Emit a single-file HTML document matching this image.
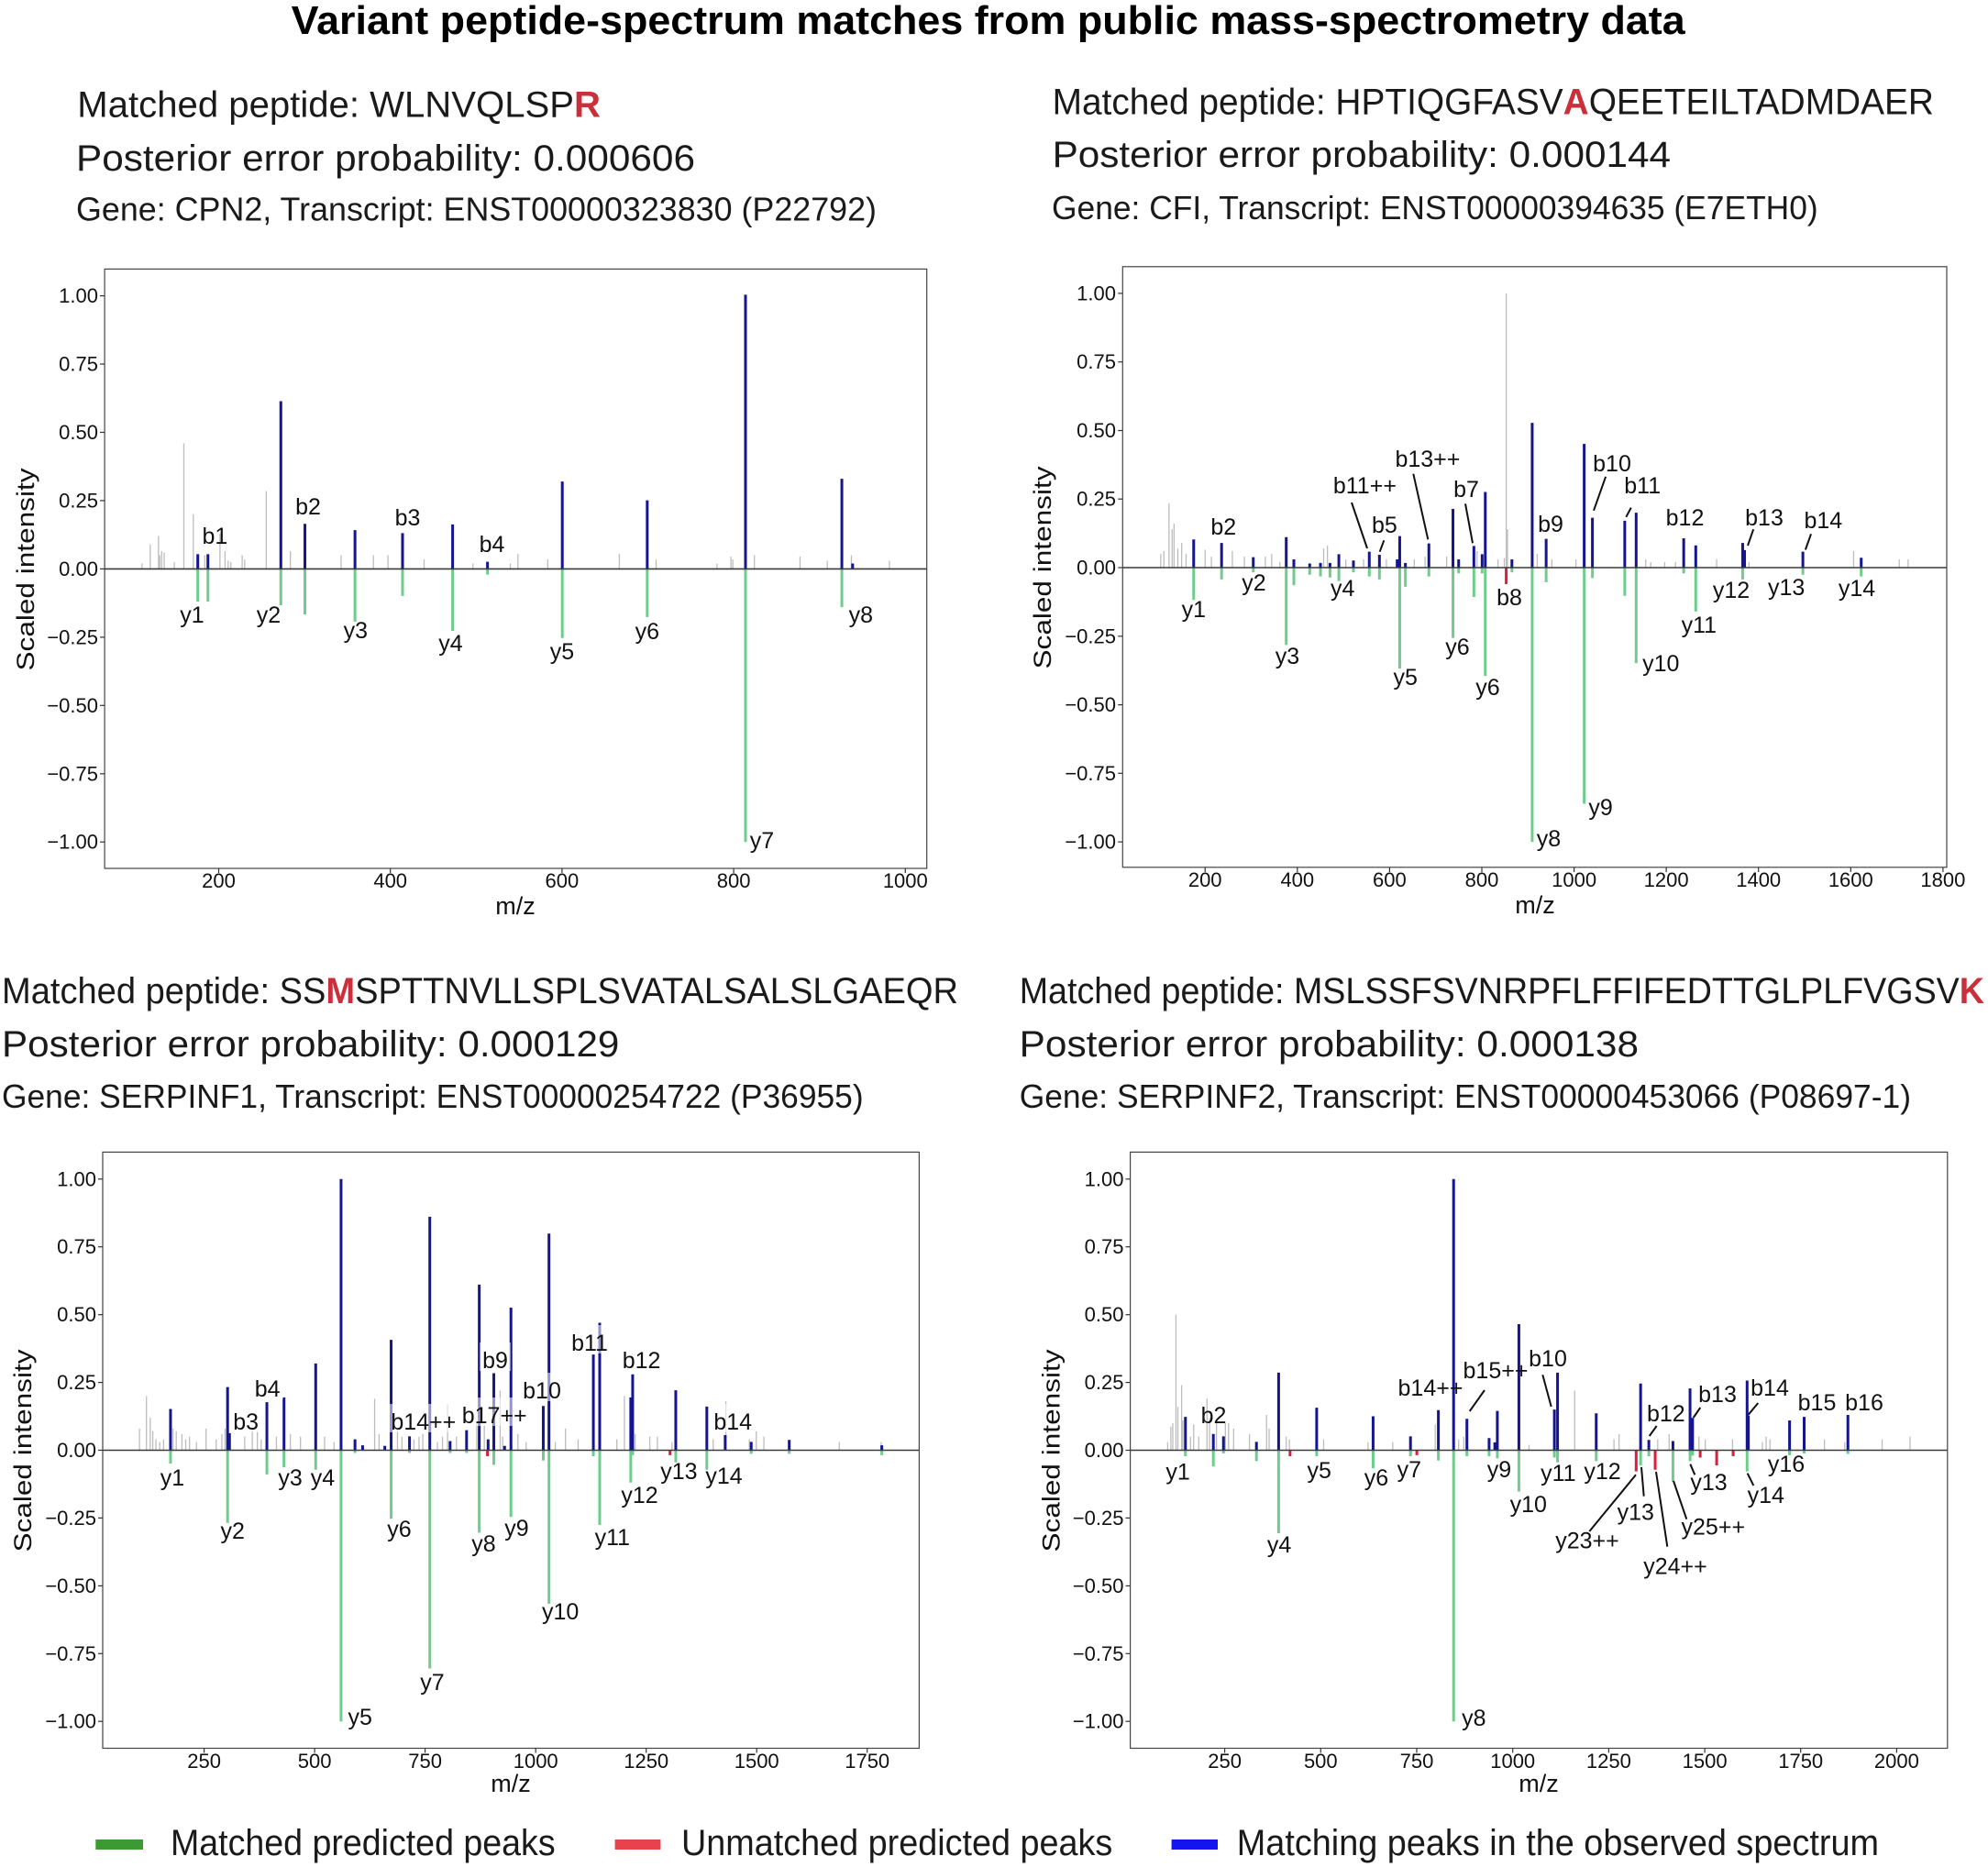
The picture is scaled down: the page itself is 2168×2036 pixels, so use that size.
<!DOCTYPE html>
<html>
<head>
<meta charset="utf-8">
<style>
html,body{margin:0;padding:0;background:#fff;}
svg{display:block;}
text{font-family:"Liberation Sans","DejaVu Sans",sans-serif;fill:#111;}
.g path,.bl path,.gr path,.rd path{vector-effect:non-scaling-stroke;fill:none;}
.g path{stroke:#bdbdbd;stroke-width:1.3;}
.bl path{stroke:#15158f;stroke-width:3;}
.gr path{stroke:#6ecd8c;stroke-width:3;}
.rd path{stroke:#dc1e3c;stroke-width:3;}
.lab{font-size:25px;text-anchor:middle;}
.tk{font-size:22px;}
.tky{text-anchor:end;}
.tkx{text-anchor:middle;}
.hd{font-size:40px;fill:#1a1a1a;}
.hd2{font-size:36px;fill:#1a1a1a;}
.hl{font-weight:bold;fill:#c9303c;}
.ax{font-size:27px;text-anchor:middle;}
.leg{font-size:40px;fill:#1a1a1a;}
.ld{stroke:#111;stroke-width:2;fill:none;}
.tm{stroke:#333;stroke-width:1.2;}
.fr{fill:none;stroke:#444;stroke-width:1.2;}
.zl{stroke:#3a3a3a;stroke-width:1.6;}
.bx{fill:#fff;fill-opacity:0.55;}
</style>
</head>
<body>
<svg width="2168" height="2036" viewBox="0 0 2168 2036" xmlns="http://www.w3.org/2000/svg">
<rect width="2168" height="2036" fill="#fff"/>

<!-- Title -->
<text x="1077.7" y="37" font-size="44" font-weight="bold" text-anchor="middle" textLength="1520" lengthAdjust="spacingAndGlyphs" style="fill:#000">Variant peptide-spectrum matches from public mass-spectrometry data</text>

<!-- ================= TOP LEFT ================= -->
<text class="hd" x="84.3" y="127.6" textLength="570.7" lengthAdjust="spacingAndGlyphs">Matched peptide: WLNVQLSP<tspan class="hl">R</tspan></text>
<text class="hd" x="83" y="186" textLength="675" lengthAdjust="spacingAndGlyphs">Posterior error probability: 0.000606</text>
<text class="hd2" x="83" y="240.4" textLength="873" lengthAdjust="spacingAndGlyphs">Gene: CPN2, Transcript: ENST00000323830 (P22792)</text>

<g transform="translate(0,620.4) scale(0.691323,-297.8)">
<g class="g"><path d="M224 0V.02M237 0V.09M250 0V.12M252 0V.05M255 0V.065M259 0V.06M275 0V.025M290 0V.46M305 0V.2M323 0V.05M347 0V.13M355 0V.065M360 0V.03M364 0V.025M382 0V.05M386 0V.035M420 0V.285M458 0V.065M538 0V.05M589 0V.05M612 0V.05M669 0V.035M746 0V.02M805 0V.02M817 0V.055M864 0V.035M977 0V.055M1035 0V.035M1131 0V.02M1153 0V.045M1156 0V.035M1190 0V.05M1262 0V.045M1305 0V.03M1343 0V.05M1403 0V.03"/></g>
<g class="gr"><path d="M312 0V-.12M328 0V-.12M443 0V-.133M481 0V-.167M560 0V-.193M635 0V-.099M714 0V-.227M769 0V-.021M887 0V-.253M1021 0V-.176M1176 0V-1M1328 0V-.14"/></g>
<g class="bl"><path d="M312 0V.054M328 0V.054M443 0V.614M481 0V.165M560 0V.142M635 0V.131M714 0V.163M769 0V.026M887 0V.32M1021 0V.251M1176 0V1.004M1328 0V.33M1345 0V.02"/></g>
</g>
<line class="zl" x1="114.1" y1="620.4" x2="1010.7" y2="620.4"/>
<rect class="fr" x="114.1" y="293.4" width="896.6" height="653.6"/>
<!-- TL ticks -->
<g class="tm">
<line x1="109" y1="322.6" x2="114.1" y2="322.6"/><line x1="109" y1="397" x2="114.1" y2="397"/><line x1="109" y1="471.5" x2="114.1" y2="471.5"/><line x1="109" y1="545.9" x2="114.1" y2="545.9"/><line x1="109" y1="620.4" x2="114.1" y2="620.4"/><line x1="109" y1="694.9" x2="114.1" y2="694.9"/><line x1="109" y1="769.3" x2="114.1" y2="769.3"/><line x1="109" y1="843.8" x2="114.1" y2="843.8"/><line x1="109" y1="918.2" x2="114.1" y2="918.2"/>
<line x1="238.5" y1="947" x2="238.5" y2="952"/><line x1="425.7" y1="947" x2="425.7" y2="952"/><line x1="612.9" y1="947" x2="612.9" y2="952"/><line x1="800.1" y1="947" x2="800.1" y2="952"/><line x1="987.3" y1="947" x2="987.3" y2="952"/>
</g>
<g class="tk tky">
<text x="107" y="330.1">1.00</text><text x="107" y="404.5">0.75</text><text x="107" y="479">0.50</text><text x="107" y="553.4">0.25</text><text x="107" y="627.9">0.00</text><text x="107" y="702.4">−0.25</text><text x="107" y="776.8">−0.50</text><text x="107" y="851.3">−0.75</text><text x="107" y="925.7">−1.00</text>
</g>
<g class="tk tkx">
<text x="238.5" y="968">200</text><text x="425.7" y="968">400</text><text x="612.9" y="968">600</text><text x="800.1" y="968">800</text><text x="987.3" y="968">1000</text>
</g>
<text class="ax" transform="translate(37,621) rotate(-90)" textLength="221" lengthAdjust="spacingAndGlyphs">Scaled intensity</text>
<text class="ax" x="562" y="997">m/z</text>
<g class="lab">
<text x="234.4" y="593">b1</text><text x="336" y="561">b2</text><text x="444.5" y="573">b3</text><text x="536.5" y="602">b4</text>
<text x="209.5" y="679">y1</text><text x="293" y="679">y2</text><text x="387.8" y="696">y3</text><text x="491.5" y="710">y4</text><text x="613" y="719">y5</text><text x="705.8" y="697">y6</text><text x="831" y="925">y7</text><text x="938.8" y="679">y8</text>
</g>

<!-- ================= TOP RIGHT ================= -->
<text class="hd" x="1147.6" y="124.4" textLength="961.4" lengthAdjust="spacingAndGlyphs">Matched peptide: HPTIQGFASV<tspan class="hl">A</tspan>QEETEILTADMDAER</text>
<text class="hd" x="1147.6" y="181.8" textLength="674.4" lengthAdjust="spacingAndGlyphs">Posterior error probability: 0.000144</text>
<text class="hd2" x="1147" y="239.2" textLength="835.7" lengthAdjust="spacingAndGlyphs">Gene: CFI, Transcript: ENST00000394635 (E7ETH0)</text>

<g transform="translate(1084,619) scale(0.691323,-299.1)">
<g class="g"><path d="M263 0V.05M268 0V.06M276 0V.235M281 0V.14M284 0V.16M290 0V.07M296 0V.09M303 0V.05M333 0V.065M343 0V.04M376 0V.06M395 0V.04M428 0V.04M438 0V.05M451 0V.02M520 0V.07M526 0V.08M555 0V.03M583 0V.03M619 0V.03M663 0V.03M680 0V.04M714 0V.04M762 0V.06M795 0V.03M805 0V.035M808 0V1M810 0V.14M857 0V.05M880 0V.03M918 0V.03M1028 0V.03M1036 0V.02M1058 0V.02M1075 0V.02M1140 0V.03M1191 0V.02M1356 0V.06M1428 0V.03M1442 0V.03"/></g>
<g class="gr"><path d="M315 0V-.118M359 0V-.043M409 0V-.017M461 0V-.282M473 0V-.064M498 0V-.026M515 0V-.032M530 0V-.036M544 0V-.049M567 0V-.017M592 0V-.032M608 0V-.043M640 0V-.368M649 0V-.07M686 0V-.032M724 0V-.256M733 0V-.021M757 0V-.107M770 0V-.021M775 0V-.395M817 0V-.017M849 0V-1M871 0V-.053M931 0V-.861M944 0V-.038M995 0V-.103M1013 0V-.348M1088 0V-.021M1107 0V-.16M1181 0V-.043M1276 0V-.026M1368 0V-.032"/></g>
<g class="rd"><path d="M808 0V-.06"/></g>
<g class="bl"><path d="M315 0V.103M359 0V.09M409 0V.038M461 0V.111M473 0V.03M498 0V.015M515 0V.017M530 0V.017M544 0V.049M567 0V.026M592 0V.058M608 0V.047M636 0V.03M640 0V.115M649 0V.017M686 0V.088M724 0V.214M733 0V.03M757 0V.079M770 0V.049M775 0V.276M817 0V.03M849 0V.528M871 0V.105M931 0V.451M944 0V.182M995 0V.171M1013 0V.2M1088 0V.107M1107 0V.081M1181 0V.09M1184 0V.064M1276 0V.058M1368 0V.036"/></g>
</g>
<line class="zl" x1="1224.3" y1="619" x2="2123" y2="619"/>
<rect class="fr" x="1224.3" y="290.8" width="898.7" height="655"/>
<g class="tm">
<line x1="1219.2" y1="319.9" x2="1224.3" y2="319.9"/><line x1="1219.2" y1="394.7" x2="1224.3" y2="394.7"/><line x1="1219.2" y1="469.5" x2="1224.3" y2="469.5"/><line x1="1219.2" y1="544.2" x2="1224.3" y2="544.2"/><line x1="1219.2" y1="619" x2="1224.3" y2="619"/><line x1="1219.2" y1="693.8" x2="1224.3" y2="693.8"/><line x1="1219.2" y1="768.6" x2="1224.3" y2="768.6"/><line x1="1219.2" y1="843.3" x2="1224.3" y2="843.3"/><line x1="1219.2" y1="918.1" x2="1224.3" y2="918.1"/>
<line x1="1314.2" y1="945.8" x2="1314.2" y2="951"/><line x1="1414.8" y1="945.8" x2="1414.8" y2="951"/><line x1="1515.4" y1="945.8" x2="1515.4" y2="951"/><line x1="1616" y1="945.8" x2="1616" y2="951"/><line x1="1716.6" y1="945.8" x2="1716.6" y2="951"/><line x1="1817.1" y1="945.8" x2="1817.1" y2="951"/><line x1="1917.7" y1="945.8" x2="1917.7" y2="951"/><line x1="2018.3" y1="945.8" x2="2018.3" y2="951"/><line x1="2118.9" y1="945.8" x2="2118.9" y2="951"/>
</g>
<g class="tk tky">
<text x="1217" y="327.4">1.00</text><text x="1217" y="402.2">0.75</text><text x="1217" y="477">0.50</text><text x="1217" y="551.7">0.25</text><text x="1217" y="626.5">0.00</text><text x="1217" y="701.3">−0.25</text><text x="1217" y="776.1">−0.50</text><text x="1217" y="850.8">−0.75</text><text x="1217" y="925.6">−1.00</text>
</g>
<g class="tk tkx">
<text x="1314.2" y="967">200</text><text x="1414.8" y="967">400</text><text x="1515.4" y="967">600</text><text x="1616" y="967">800</text><text x="1716.6" y="967">1000</text><text x="1817.1" y="967">1200</text><text x="1917.7" y="967">1400</text><text x="2018.3" y="967">1600</text><text x="2118.9" y="967">1800</text>
</g>
<text class="ax" transform="translate(1146,619) rotate(-90)" textLength="221" lengthAdjust="spacingAndGlyphs">Scaled intensity</text>
<text class="ax" x="1674" y="996">m/z</text>
<g class="ld">
<line x1="1474" y1="548" x2="1491" y2="598"/>
<line x1="1509.3" y1="589.3" x2="1504.7" y2="601.7"/>
<line x1="1541.3" y1="516.7" x2="1557.3" y2="588.3"/>
<line x1="1598" y1="549.3" x2="1606" y2="592.3"/>
<line x1="1751.1" y1="519.8" x2="1738" y2="556.8"/>
<line x1="1778.8" y1="553.6" x2="1773.3" y2="563.8"/>
<line x1="1912.2" y1="577.2" x2="1906" y2="595"/>
<line x1="1975" y1="582.3" x2="1968.9" y2="599.5"/>
</g>
<g class="lab">
<text x="1334.3" y="583">b2</text><text x="1488.4" y="538">b11++</text><text x="1509.9" y="581">b5</text><text x="1556.9" y="509">b13++</text><text x="1599" y="542">b7</text><text x="1691" y="580">b9</text><text x="1758" y="514">b10</text><text x="1791.2" y="538">b11</text><text x="1837.5" y="573">b12</text><text x="1924" y="573">b13</text><text x="1988.3" y="576">b14</text><text x="1646" y="660">b8</text>
<text x="1301.8" y="673">y1</text><text x="1367.4" y="644">y2</text><text x="1404" y="724">y3</text><text x="1464.2" y="650">y4</text><text x="1532.7" y="747">y5</text><text x="1589.4" y="714">y6</text><text x="1622.5" y="758">y6</text><text x="1689" y="923">y8</text><text x="1745.6" y="889">y9</text><text x="1811.3" y="732">y10</text><text x="1852.8" y="690">y11</text><text x="1888" y="652">y12</text><text x="1948.2" y="649">y13</text><text x="2025" y="650">y14</text>
</g>

<!-- ================= BOTTOM LEFT ================= -->
<text class="hd" x="2" y="1093.8" textLength="1043" lengthAdjust="spacingAndGlyphs">Matched peptide: SS<tspan class="hl">M</tspan>SPTTNVLLSPLSVATALSALSLGAEQR</text>
<text class="hd" x="2" y="1152" textLength="673.4" lengthAdjust="spacingAndGlyphs">Posterior error probability: 0.000129</text>
<text class="hd2" x="2" y="1208" textLength="939.6" lengthAdjust="spacingAndGlyphs">Gene: SERPINF1, Transcript: ENST00000254722 (P36955)</text>

<g transform="translate(0,1581.5) scale(0.691323,-295.7)">
<g class="g"><path d="M220 0V.08M231 0V.2M237 0V.12M241 0V.07M246 0V.04M252 0V.03M258 0V.04M273 0V.08M278 0V.07M287 0V.06M293 0V.04M299 0V.05M310 0V.03M325 0V.08M341 0V.04M350 0V.06M355 0V.08M386 0V.05M398 0V.08M406 0V.07M412 0V.04M436 0V.05M458 0V.06M474 0V.05M512 0V.05M527 0V.03M591 0V.19M598 0V.06M627 0V.08M634 0V.05M653 0V.04M661 0V.05M667 0V.06M690 0V.03M698 0V.05M706 0V.17M720 0V.05M752 0V.1M764 0V.09M789 0V.22M793 0V.05M817 0V.06M830 0V.03M876 0V.03M892 0V.08M912 0V.04M947 0V.11M973 0V.04M985 0V.2M1002 0V.06M1025 0V.05M1037 0V.05M1060 0V.03M1125 0V.04M1145 0V.18M1182 0V.04M1193 0V.07M1205 0V.05M1324 0V.03M1390 0V.03"/></g>
<g class="gr"><path d="M269 0V-.049M359 0V-.268M421 0V-.089M448 0V-.063M498 0V-.072M538 0V-1M560 0V-.01M617 0V-.253M646 0V-.01M678 0V-.805M710 0V-.01M736 0V-.01M756 0V-.304M779 0V-.054M806 0V-.246M857 0V-.038M866 0V-.566M936 0V-.022M946 0V-.275M995 0V-.119M998 0V-.018M1066 0V-.045M1115 0V-.072M1185 0V-.013M1245 0V-.013M1391 0V-.018"/></g>
<g class="rd"><path d="M769 0V-.022M1057 0V-.018"/></g>
<g class="bl"><path d="M269 0V.152M359 0V.233M362 0V.063M421 0V.177M448 0V.195M498 0V.32M538 0V1.0M560 0V.04M572 0V.018M607 0V.016M617 0V.407M646 0V.051M678 0V.861M710 0V.034M736 0V.074M756 0V.611M770 0V.04M779 0V.284M796 0V.016M806 0V.526M857 0V.163M866 0V.799M936 0V.353M946 0V.47M995 0V.195M998 0V.28M1066 0V.221M1115 0V.161M1144 0V.056M1185 0V.031M1245 0V.038M1391 0V.018"/></g>
</g>
<line class="zl" x1="112" y1="1581.5" x2="1002.4" y2="1581.5"/>
<rect class="fr" x="112" y="1256.4" width="890.4" height="650.1"/>
<g class="tm">
<line x1="107" y1="1285.8" x2="112" y2="1285.8"/><line x1="107" y1="1359.7" x2="112" y2="1359.7"/><line x1="107" y1="1433.7" x2="112" y2="1433.7"/><line x1="107" y1="1507.6" x2="112" y2="1507.6"/><line x1="107" y1="1581.5" x2="112" y2="1581.5"/><line x1="107" y1="1655.4" x2="112" y2="1655.4"/><line x1="107" y1="1729.4" x2="112" y2="1729.4"/><line x1="107" y1="1803.3" x2="112" y2="1803.3"/><line x1="107" y1="1877.2" x2="112" y2="1877.2"/>
<line x1="222.6" y1="1906.5" x2="222.6" y2="1911.5"/><line x1="343.1" y1="1906.5" x2="343.1" y2="1911.5"/><line x1="463.6" y1="1906.5" x2="463.6" y2="1911.5"/><line x1="584.2" y1="1906.5" x2="584.2" y2="1911.5"/><line x1="704.7" y1="1906.5" x2="704.7" y2="1911.5"/><line x1="825.2" y1="1906.5" x2="825.2" y2="1911.5"/><line x1="945.7" y1="1906.5" x2="945.7" y2="1911.5"/>
</g>
<g class="tk tky">
<text x="105" y="1293.3">1.00</text><text x="105" y="1367.2">0.75</text><text x="105" y="1441.2">0.50</text><text x="105" y="1515.1">0.25</text><text x="105" y="1589">0.00</text><text x="105" y="1662.9">−0.25</text><text x="105" y="1736.9">−0.50</text><text x="105" y="1810.8">−0.75</text><text x="105" y="1884.7">−1.00</text>
</g>
<g class="tk tkx">
<text x="222.6" y="1928">250</text><text x="343.1" y="1928">500</text><text x="463.6" y="1928">750</text><text x="584.2" y="1928">1000</text><text x="704.7" y="1928">1250</text><text x="825.2" y="1928">1500</text><text x="945.7" y="1928">1750</text>
</g>
<text class="ax" transform="translate(34,1582) rotate(-90)" textLength="221" lengthAdjust="spacingAndGlyphs">Scaled intensity</text>
<text class="ax" x="557" y="1954">m/z</text>
<g>
<rect class="bx" x="251.3" y="1531" width="33.8" height="31"/>
<rect class="bx" x="274.8" y="1495" width="33.8" height="31"/>
<rect class="bx" x="423.4" y="1531" width="76.9" height="31"/>
<rect class="bx" x="523.1" y="1464" width="33.8" height="31"/>
<rect class="bx" x="500.8" y="1524" width="76.9" height="31"/>
<rect class="bx" x="567.2" y="1497" width="47.7" height="31"/>
<rect class="bx" x="619.2" y="1445" width="47.7" height="31"/>
<rect class="bx" x="675.8" y="1464" width="47.7" height="31"/>
<rect class="bx" x="775.4" y="1531" width="47.7" height="31"/>
</g>
<g class="lab">
<text x="268.2" y="1559">b3</text><text x="291.7" y="1523">b4</text><text x="461.8" y="1559">b14++</text><text x="540" y="1492">b9</text><text x="539.2" y="1552">b17++</text><text x="591" y="1525">b10</text><text x="643" y="1473">b11</text><text x="699.6" y="1492">b12</text><text x="799.2" y="1559">b14</text>
<text x="188" y="1620">y1</text><text x="253.7" y="1678">y2</text><text x="316.6" y="1620">y3</text><text x="351.9" y="1620">y4</text><text x="392.7" y="1881">y5</text><text x="435.5" y="1676">y6</text><text x="471.5" y="1843">y7</text><text x="527.5" y="1692">y8</text><text x="563.4" y="1675">y9</text><text x="611.1" y="1766">y10</text><text x="667.8" y="1685">y11</text><text x="697.5" y="1639">y12</text><text x="740.4" y="1613">y13</text><text x="789.5" y="1618">y14</text>
</g>

<!-- ================= BOTTOM RIGHT ================= -->
<text class="hd" x="1111.7" y="1093.8" textLength="1052.3" lengthAdjust="spacingAndGlyphs">Matched peptide: MSLSSFSVNRPFLFFIFEDTTGLPLFVGSV<tspan class="hl">K</tspan></text>
<text class="hd" x="1111.7" y="1152" textLength="675.3" lengthAdjust="spacingAndGlyphs">Posterior error probability: 0.000138</text>
<text class="hd2" x="1111.7" y="1208" textLength="972.3" lengthAdjust="spacingAndGlyphs">Gene: SERPINF2, Transcript: ENST00000453066 (P08697-1)</text>

<g transform="translate(1084,1581.5) scale(0.691323,-295.7)">
<g class="g"><path d="M274 0V.03M279 0V.087M282 0V.1M287 0V.5M290 0V.16M296 0V.24M298 0V.11M310 0V.05M315 0V.095M323 0V.05M336 0V.19M340 0V.12M351 0V.1M365 0V.1M370 0V.1M378 0V.08M403 0V.06M430 0V.13M434 0V.08M461 0V.05M466 0V.04M520 0V.04M590 0V.03M629 0V.03M696 0V.095M733 0V.04M741 0V.05M844 0V.02M916 0V.22M978 0V.04M986 0V.06M1047 0V.04M1065 0V.06M1112 0V.05M1122 0V.04M1165 0V.04M1212 0V.03M1218 0V.05M1224 0V.04M1310 0V.04M1342 0V.03M1401 0V.04M1445 0V.05"/></g>
<g class="gr"><path d="M302 0V-.022M346 0V-.06M362 0V-.012M414 0V-.04M449 0V-.306M509 0V-.022M598 0V-.067M657 0V-.022M701 0V-.038M725 0V-1M746 0V-.022M781 0V-.022M794 0V-.03M828 0V-.152M884 0V-.027M889 0V-.045M950 0V-.04M1020 0V-.056M1033 0V-.022M1071 0V-.116M1098 0V-.04M1102 0V-.02M1188 0V-.078M1255 0V-.018M1278 0V-.012M1347 0V-.014"/></g>
<g class="rd"><path d="M467 0V-.022M667 0V-.018M1013 0V-.078M1043 0V-.072M1114 0V-.027M1140 0V-.056M1166 0V-.022"/></g>
<g class="bl"><path d="M302 0V.123M346 0V.06M362 0V.051M414 0V.031M449 0V.286M509 0V.157M598 0V.125M657 0V.051M701 0V.148M725 0V1.0M746 0V.116M781 0V.045M790 0V.029M794 0V.145M828 0V.465M884 0V.15M889 0V.286M950 0V.136M1020 0V.246M1033 0V.038M1071 0V.034M1098 0V.228M1102 0V.119M1188 0V.257M1190 0V.128M1255 0V.11M1278 0V.123M1347 0V.13"/></g>
</g>
<line class="zl" x1="1232.6" y1="1581.5" x2="2123.8" y2="1581.5"/>
<rect class="fr" x="1232.6" y="1256.4" width="891.2" height="650.1"/>
<g class="tm">
<line x1="1227.5" y1="1285.8" x2="1232.6" y2="1285.8"/><line x1="1227.5" y1="1359.7" x2="1232.6" y2="1359.7"/><line x1="1227.5" y1="1433.7" x2="1232.6" y2="1433.7"/><line x1="1227.5" y1="1507.6" x2="1232.6" y2="1507.6"/><line x1="1227.5" y1="1581.5" x2="1232.6" y2="1581.5"/><line x1="1227.5" y1="1655.4" x2="1232.6" y2="1655.4"/><line x1="1227.5" y1="1729.4" x2="1232.6" y2="1729.4"/><line x1="1227.5" y1="1803.3" x2="1232.6" y2="1803.3"/><line x1="1227.5" y1="1877.2" x2="1232.6" y2="1877.2"/>
<line x1="1335.6" y1="1906.5" x2="1335.6" y2="1911.5"/><line x1="1440.3" y1="1906.5" x2="1440.3" y2="1911.5"/><line x1="1545" y1="1906.5" x2="1545" y2="1911.5"/><line x1="1649.7" y1="1906.5" x2="1649.7" y2="1911.5"/><line x1="1754.4" y1="1906.5" x2="1754.4" y2="1911.5"/><line x1="1859.1" y1="1906.5" x2="1859.1" y2="1911.5"/><line x1="1963.7" y1="1906.5" x2="1963.7" y2="1911.5"/><line x1="2068.4" y1="1906.5" x2="2068.4" y2="1911.5"/>
</g>
<g class="tk tky">
<text x="1225.5" y="1293.3">1.00</text><text x="1225.5" y="1367.2">0.75</text><text x="1225.5" y="1441.2">0.50</text><text x="1225.5" y="1515.1">0.25</text><text x="1225.5" y="1589">0.00</text><text x="1225.5" y="1662.9">−0.25</text><text x="1225.5" y="1736.9">−0.50</text><text x="1225.5" y="1810.8">−0.75</text><text x="1225.5" y="1884.7">−1.00</text>
</g>
<g class="tk tkx">
<text x="1335.6" y="1928">250</text><text x="1440.3" y="1928">500</text><text x="1545" y="1928">750</text><text x="1649.7" y="1928">1000</text><text x="1754.4" y="1928">1250</text><text x="1859.1" y="1928">1500</text><text x="1963.7" y="1928">1750</text><text x="2068.4" y="1928">2000</text>
</g>
<text class="ax" transform="translate(1155.5,1582) rotate(-90)" textLength="221" lengthAdjust="spacingAndGlyphs">Scaled intensity</text>
<text class="ax" x="1678" y="1954">m/z</text>
<g class="ld">
<line x1="1619" y1="1516" x2="1602.7" y2="1539"/>
<line x1="1682.3" y1="1499.3" x2="1691.7" y2="1534"/>
<line x1="1806.7" y1="1555" x2="1798.7" y2="1566"/>
<line x1="1854.3" y1="1535" x2="1846.7" y2="1546"/>
<line x1="1917.3" y1="1530" x2="1906.7" y2="1542.7"/>
<line x1="1784" y1="1608.3" x2="1733.3" y2="1670"/>
<line x1="1790" y1="1600" x2="1792.7" y2="1631.7"/>
<line x1="1806" y1="1605" x2="1818.3" y2="1686.7"/>
<line x1="1825" y1="1615" x2="1839.3" y2="1656.7"/>
<line x1="1843.3" y1="1596.7" x2="1848.3" y2="1608.3"/>
<line x1="1905.7" y1="1606.7" x2="1912.3" y2="1620"/>
</g>
<g class="lab">
<text x="1323.5" y="1552">b2</text><text x="1560" y="1522">b14++</text><text x="1631" y="1503">b15++</text><text x="1688" y="1490">b10</text><text x="1816.8" y="1550">b12</text><text x="1873" y="1529">b13</text><text x="1930" y="1522">b14</text><text x="1981.5" y="1538">b15</text><text x="2033" y="1538">b16</text>
<text x="1284.6" y="1613.5">y1</text><text x="1395.1" y="1693">y4</text><text x="1438.7" y="1612">y5</text><text x="1500.9" y="1620">y6</text><text x="1536.8" y="1611">y7</text><text x="1607.3" y="1882">y8</text><text x="1635" y="1611">y9</text><text x="1666.8" y="1649">y10</text><text x="1699.3" y="1615">y11</text><text x="1747.5" y="1613">y12</text><text x="1783.8" y="1657.5">y13</text><text x="1863.5" y="1625">y13</text><text x="1925.8" y="1639">y14</text><text x="1948" y="1605">y16</text><text x="1731" y="1688.5">y23++</text><text x="1827" y="1716.5">y24++</text><text x="1868.3" y="1673.5">y25++</text>
</g>

<!-- ================= LEGEND ================= -->
<rect x="104.3" y="2006" width="51.7" height="11" fill="#3c9a32"/>
<text class="leg" x="186" y="2023" textLength="419.6" lengthAdjust="spacingAndGlyphs">Matched predicted peaks</text>
<rect x="670.6" y="2006" width="49.8" height="11" fill="#e8424c"/>
<text class="leg" x="743" y="2023" textLength="470.3" lengthAdjust="spacingAndGlyphs">Unmatched predicted peaks</text>
<rect x="1277.6" y="2006" width="50.4" height="11" fill="#1414ee"/>
<text class="leg" x="1348.8" y="2023" textLength="700.2" lengthAdjust="spacingAndGlyphs">Matching peaks in the observed spectrum</text>
</svg>
</body>
</html>
